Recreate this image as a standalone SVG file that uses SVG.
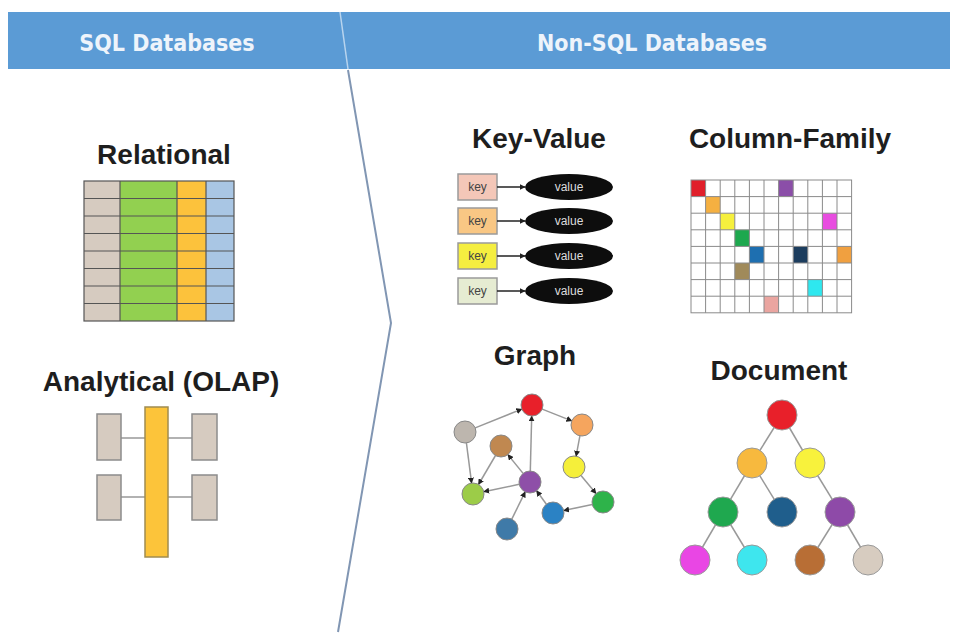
<svg xmlns="http://www.w3.org/2000/svg" width="972" height="642" viewBox="0 0 972 642">
<defs>
<style>
.hdr{font-family:"DejaVu Sans Condensed","DejaVu Sans",sans-serif;font-size:23px;font-weight:bold;fill:#eef4fb;text-anchor:middle}
.ttl{font-family:"Liberation Sans",Arial,sans-serif;font-weight:bold;font-size:28px;fill:#1e1e1e;text-anchor:middle}
.cell{stroke:#555;stroke-width:1.2}
.box{fill:#d6cbc0;stroke:#8c8c8c;stroke-width:1.5}
.lnk{stroke:#999;stroke-width:1.5;fill:none}
.key{stroke:#9a9a9a;stroke-width:1.5}
.keyt{font-family:"Liberation Sans",Arial,sans-serif;font-size:12px;fill:#444;text-anchor:middle}
.valt{font-family:"Liberation Sans",Arial,sans-serif;font-size:12px;fill:#ddd;text-anchor:middle}
.grid{stroke:#8a8a8a;stroke-width:1}
.gn{stroke:#888;stroke-width:1}
.dn{stroke:#999;stroke-width:1}
</style>
<marker id="ah" viewBox="0 0 10 10" refX="9" refY="5" markerWidth="6" markerHeight="6" markerUnits="userSpaceOnUse" orient="auto">
<path d="M0,0 L10,5 L0,10 z" fill="#222"/>
</marker>
</defs>
<rect x="0" y="0" width="972" height="642" fill="#ffffff"/>

<g id="header">
<rect x="8" y="12" width="942" height="57" fill="#5b9bd5"/>
<line x1="340" y1="12" x2="348" y2="69" stroke="#b8d4ee" stroke-width="1.5"/>
<text class="hdr" x="167" y="51">SQL Databases</text>
<text class="hdr" x="652" y="51">Non-SQL Databases</text>
</g>

<g id="divider">
<polyline points="348,70 391,323 338,632" fill="none" stroke="#8196b3" stroke-width="2"/>
</g>

<g id="relational">
<text class="ttl" x="164" y="164" font-size="29">Relational</text>
<rect x="84" y="181" width="36" height="140" fill="#d6cbc0"/>
<rect x="120" y="181" width="57" height="140" fill="#92d050"/>
<rect x="177" y="181" width="29" height="140" fill="#fcc23c"/>
<rect x="206" y="181" width="28" height="140" fill="#a9c6e4"/>
<g class="cell" fill="none">
<rect x="84" y="181" width="150" height="140"/>
<line x1="120" y1="181" x2="120" y2="321"/>
<line x1="177" y1="181" x2="177" y2="321"/>
<line x1="206" y1="181" x2="206" y2="321"/>
<line x1="84" y1="198.5" x2="234" y2="198.5"/>
<line x1="84" y1="216" x2="234" y2="216"/>
<line x1="84" y1="233.5" x2="234" y2="233.5"/>
<line x1="84" y1="251" x2="234" y2="251"/>
<line x1="84" y1="268.5" x2="234" y2="268.5"/>
<line x1="84" y1="286" x2="234" y2="286"/>
<line x1="84" y1="303.5" x2="234" y2="303.5"/>
</g>
</g>

<g id="olap">
<text class="ttl" x="161" y="391" font-size="29">Analytical (OLAP)</text>
<line x1="121" y1="438" x2="192" y2="438" stroke="#999" stroke-width="1.5"/>
<line x1="121" y1="497" x2="192" y2="497" stroke="#999" stroke-width="1.5"/>
<rect x="145" y="407" width="23" height="150" fill="#fcc43a" stroke="#a08c50" stroke-width="1.5"/>
<rect class="box" x="97" y="414" width="24" height="46"/>
<rect class="box" x="97" y="475" width="24" height="45"/>
<rect class="box" x="192" y="414" width="25" height="46"/>
<rect class="box" x="192" y="475" width="25" height="45"/>
</g>

<g id="keyvalue">
<text class="ttl" x="539" y="148">Key-Value</text>
<rect class="key" x="458" y="174" width="39" height="26" fill="#f4c7b8"/>
<rect class="key" x="458" y="208" width="39" height="26" fill="#f9c784"/>
<rect class="key" x="458" y="243" width="39" height="26" fill="#f5ee40"/>
<rect class="key" x="458" y="278" width="39" height="26" fill="#e6ecd2"/>
<text class="keyt" x="477.5" y="191">key</text>
<text class="keyt" x="477.5" y="225">key</text>
<text class="keyt" x="477.5" y="260">key</text>
<text class="keyt" x="477.5" y="295">key</text>
<g stroke="#222" stroke-width="1.5" marker-end="url(#ah)">
<line x1="497" y1="187" x2="525" y2="187"/>
<line x1="497" y1="221" x2="525" y2="221"/>
<line x1="497" y1="256" x2="525" y2="256"/>
<line x1="497" y1="291" x2="525" y2="291"/>
</g>
<ellipse cx="569" cy="187" rx="44" ry="13" fill="#0d0d0d"/>
<ellipse cx="569" cy="221" rx="44" ry="13" fill="#0d0d0d"/>
<ellipse cx="569" cy="256" rx="44" ry="13" fill="#0d0d0d"/>
<ellipse cx="569" cy="291" rx="44" ry="13" fill="#0d0d0d"/>
<text class="valt" x="569" y="191">value</text>
<text class="valt" x="569" y="225">value</text>
<text class="valt" x="569" y="260">value</text>
<text class="valt" x="569" y="295">value</text>
</g>

<g id="columnfamily">
<text class="ttl" x="790" y="148" font-size="27">Column-Family</text>
<rect x="691" y="180" width="160.6" height="132.8" fill="#ffffff"/>
<rect x="691" y="180" width="14.6" height="16.6" fill="#e01f2a"/>
<rect x="778.6" y="180" width="14.6" height="16.6" fill="#8b4ea8"/>
<rect x="705.6" y="196.6" width="14.6" height="16.6" fill="#f5b041"/>
<rect x="720.2" y="213.2" width="14.6" height="16.6" fill="#f6f03d"/>
<rect x="822.4" y="213.2" width="14.6" height="16.6" fill="#e84de0"/>
<rect x="734.8" y="229.8" width="14.6" height="16.6" fill="#1da84e"/>
<rect x="749.4" y="246.4" width="14.6" height="16.6" fill="#1e6fb0"/>
<rect x="793.2" y="246.4" width="14.6" height="16.6" fill="#1c3d5e"/>
<rect x="837" y="246.4" width="14.6" height="16.6" fill="#f0a040"/>
<rect x="734.8" y="263" width="14.6" height="16.6" fill="#a08a5a"/>
<rect x="807.8" y="279.6" width="14.6" height="16.6" fill="#2ee8ef"/>
<rect x="764" y="296.2" width="14.6" height="16.6" fill="#eaa5a0"/>
<g class="grid" fill="none">
<rect x="691" y="180" width="160.6" height="132.8"/>
<line x1="705.6" y1="180" x2="705.6" y2="312.8"/>
<line x1="720.2" y1="180" x2="720.2" y2="312.8"/>
<line x1="734.8" y1="180" x2="734.8" y2="312.8"/>
<line x1="749.4" y1="180" x2="749.4" y2="312.8"/>
<line x1="764" y1="180" x2="764" y2="312.8"/>
<line x1="778.6" y1="180" x2="778.6" y2="312.8"/>
<line x1="793.2" y1="180" x2="793.2" y2="312.8"/>
<line x1="807.8" y1="180" x2="807.8" y2="312.8"/>
<line x1="822.4" y1="180" x2="822.4" y2="312.8"/>
<line x1="837" y1="180" x2="837" y2="312.8"/>
<line x1="691" y1="196.6" x2="851.6" y2="196.6"/>
<line x1="691" y1="213.2" x2="851.6" y2="213.2"/>
<line x1="691" y1="229.8" x2="851.6" y2="229.8"/>
<line x1="691" y1="246.4" x2="851.6" y2="246.4"/>
<line x1="691" y1="263" x2="851.6" y2="263"/>
<line x1="691" y1="279.6" x2="851.6" y2="279.6"/>
<line x1="691" y1="296.2" x2="851.6" y2="296.2"/>
</g>
</g>

<g id="graph">
<text class="ttl" x="535" y="365" font-size="27">Graph</text>
<g id="graph-edges" class="lnk" marker-end="url(#ah)">
<line x1="475.2" y1="427.9" x2="521.8" y2="409.1"/>
<line x1="542.2" y1="409.1" x2="571.8" y2="420.9"/>
<line x1="579.9" y1="435.8" x2="576.1" y2="456.2"/>
<line x1="581" y1="475.5" x2="596" y2="493.5"/>
<line x1="592.3" y1="504.4" x2="563.7" y2="510.6"/>
<line x1="530.3" y1="471" x2="531.7" y2="416"/>
<line x1="523.1" y1="473.4" x2="507.9" y2="454.6"/>
<line x1="495.5" y1="455.5" x2="478.5" y2="484.5"/>
<line x1="466.4" y1="442.9" x2="471.6" y2="483.1"/>
<line x1="519.2" y1="484.3" x2="483.8" y2="491.7"/>
<line x1="511.8" y1="519.1" x2="525.2" y2="491.9"/>
<line x1="546.4" y1="504.2" x2="536.6" y2="490.8"/>
</g>
<circle id="g-red" class="gn" cx="532" cy="405" r="11" fill="#e8202a"/>
<circle id="g-gray" class="gn" cx="465" cy="432" r="11" fill="#bdb6ae"/>
<circle id="g-peach" class="gn" cx="582" cy="425" r="11" fill="#f5a55e"/>
<circle id="g-brown" class="gn" cx="501" cy="446" r="11" fill="#c08850"/>
<circle id="g-yellow" class="gn" cx="574" cy="467" r="11" fill="#f5ef3a"/>
<circle id="g-purple" class="gn" cx="530" cy="482" r="11" fill="#8e4fa8"/>
<circle id="g-lime" class="gn" cx="473" cy="494" r="11" fill="#9ccc48"/>
<circle id="g-green" class="gn" cx="603" cy="502" r="11" fill="#2eb34a"/>
<circle id="g-blue" class="gn" cx="553" cy="513" r="11" fill="#2b82c4"/>
<circle id="g-steel" class="gn" cx="507" cy="529" r="11" fill="#3f7aa8"/>
</g>

<g id="document">
<text class="ttl" x="779" y="380" font-size="27">Document</text>
<g id="doc-edges" class="lnk">
<line x1="782" y1="415" x2="752" y2="463"/>
<line x1="782" y1="415" x2="810" y2="463"/>
<line x1="752" y1="463" x2="723" y2="512"/>
<line x1="752" y1="463" x2="782" y2="512"/>
<line x1="810" y1="463" x2="840" y2="512"/>
<line x1="723" y1="512" x2="695" y2="560"/>
<line x1="723" y1="512" x2="752" y2="560"/>
<line x1="840" y1="512" x2="810" y2="560"/>
<line x1="840" y1="512" x2="868" y2="560"/>
</g>
<circle id="d-red" class="dn" cx="782" cy="415" r="15" fill="#e8202a"/>
<circle id="d-orange" class="dn" cx="752" cy="463" r="15" fill="#f7b93e"/>
<circle id="d-yellow" class="dn" cx="810" cy="463" r="15" fill="#f8f23c"/>
<circle id="d-green" class="dn" cx="723" cy="512" r="15" fill="#1fa84f"/>
<circle id="d-navy" class="dn" cx="782" cy="512" r="15" fill="#1f5e8c"/>
<circle id="d-purple" class="dn" cx="840" cy="512" r="15" fill="#8e4aa8"/>
<circle id="d-magenta" class="dn" cx="695" cy="560" r="15" fill="#e946e4"/>
<circle id="d-cyan" class="dn" cx="752" cy="560" r="15" fill="#3ee6ee"/>
<circle id="d-brown" class="dn" cx="810" cy="560" r="15" fill="#b86e35"/>
<circle id="d-beige" class="dn" cx="868" cy="560" r="15" fill="#d7ccc0"/>
</g>
</svg>
